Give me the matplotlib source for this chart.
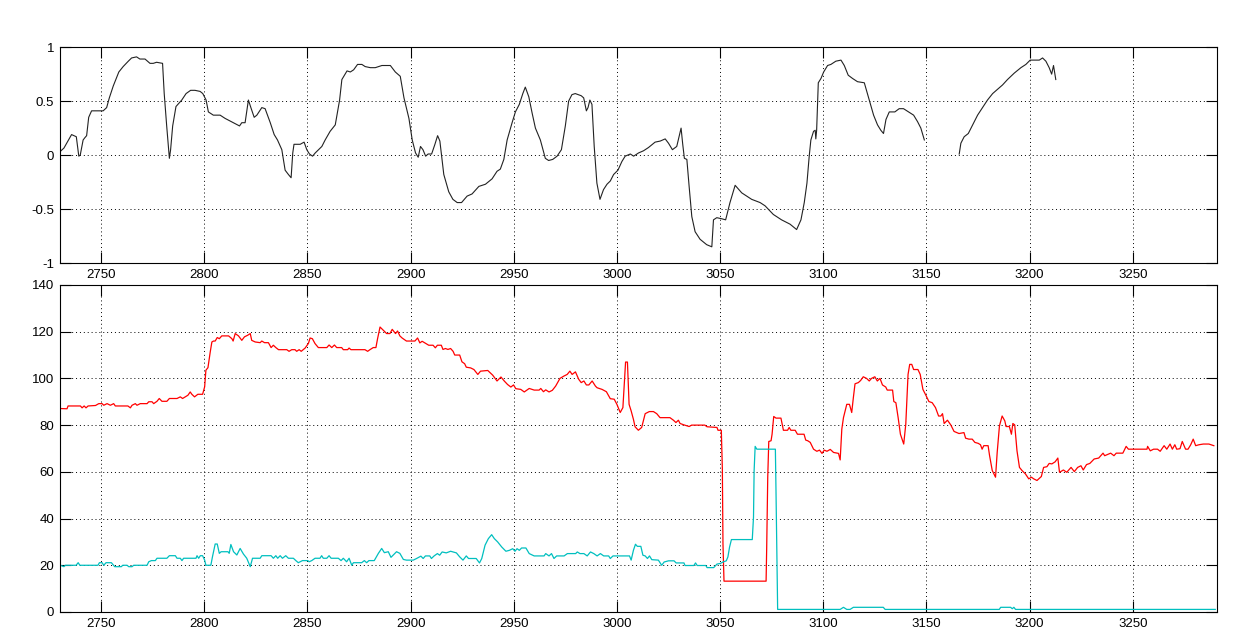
import numpy as np
import matplotlib
matplotlib.use('Agg')
import matplotlib.pyplot as plt

plt.rcParams['font.family'] = ['Liberation Sans', 'DejaVu Sans']
plt.rcParams['axes.unicode_minus'] = False

# Top panel: black signal (NaN marks the gap)
top_x = [2730, 2732, 2735.7, 2738, 2739.2, 2739.9, 2741.3, 2742.1, 2743, 2744, 2745.4, 2751,
         2752.7, 2754, 2755.9, 2758.6, 2760.7, 2763.2, 2764.8, 2767.2, 2768.8, 2771.3, 2773.7,
         2775.3, 2776.9, 2779.8, 2780.6, 2781.8, 2783.1, 2783.7, 2784.7, 2786.3, 2789.1, 2791.2,
         2793.4, 2795.5, 2798, 2799.3, 2800.9, 2802, 2804.4, 2807.7, 2810.1, 2814.1, 2817.1,
         2818.2, 2819.8, 2821.4, 2822.6, 2824.2, 2825.5, 2827.9, 2829.5, 2832, 2833.9, 2835.5,
         2837.6, 2839.2, 2840.8, 2842.1, 2842.9, 2843.5, 2846.5, 2848.4, 2849.7, 2851, 2852.5,
         2853.8, 2857, 2858.6, 2861, 2863.5, 2865.6, 2866.7, 2869.2, 2870.8, 2872.4, 2874.3,
         2876.4, 2878, 2880.5, 2882.9, 2886.1, 2890.2, 2892.6, 2895, 2896.8, 2899.2, 2900.8,
         2902.4, 2903.7, 2904.8, 2906, 2907.3, 2908.5, 2910.2, 2911.8, 2913.1, 2914.2, 2916.1,
         2918.5, 2920.5, 2922.6, 2924.7, 2927.4, 2929.8, 2933.1, 2936.3, 2939.5, 2941.9, 2943.5,
         2945.2, 2946.8, 2949.2, 2950.8, 2952.7, 2954.4, 2955.6, 2957.3, 2958.9, 2960.5, 2962.9,
         2965.3, 2966.9, 2968.9, 2971, 2973.1, 2975, 2976.6, 2978.2, 2979.8, 2982.7, 2983.9,
         2985.2, 2986, 2986.9, 2987.9, 2989, 2990.3, 2991.8, 2993.5, 2995.2, 2996.8, 2998.4,
         3000.5, 3002.4, 3004, 3006.5, 3008.1, 3010.5, 3012.9, 3015.3, 3018.5, 3021, 3023.4,
         3025, 3026.9, 3029, 3031.1, 3031.9, 3032.7, 3033.9, 3035, 3036.3, 3037.9, 3040.3,
         3043.5, 3046, 3046.8, 3048.4, 3050.8, 3052.7, 3054.8, 3057.3, 3060.5, 3065.3, 3069.4,
         3071.8, 3075.8, 3079.8, 3083.9, 3087.1, 3089.2, 3090.8, 3092.1, 3093.2, 3094, 3095.3,
         3096.1, 3096.4, 3096.8, 3097.6, 3098.9, 3100.2, 3102.1, 3103.7, 3106.1, 3108.6, 3110.2,
         3112.1, 3114.2, 3116.6, 3119.9, 3122.3, 3124.4, 3126.3, 3127.9, 3129.2, 3130.4, 3132,
         3134.7, 3136.8, 3138.9, 3141.4, 3143.8, 3145.7, 3147.3, 3149, 3157, 3165.9, 3166.7,
         3168.3, 3170.3, 3172.4, 3174.8, 3177.2, 3179.6, 3182.1, 3184.5, 3186.9, 3189.3, 3192.6,
         3195.8, 3198.2, 3200.3, 3204.7, 3206.3, 3207.9, 3209.5, 3210.7, 3211.6, 3212.7]
top_y = [0.03, 0.065, 0.19, 0.17, -0.01, 0.0, 0.14, 0.16, 0.18, 0.35, 0.41, 0.41,
         0.44, 0.53, 0.64, 0.77, 0.82, 0.87, 0.90, 0.91, 0.89, 0.89, 0.85,
         0.85, 0.86, 0.85, 0.57, 0.27, -0.03, 0.05, 0.27, 0.45, 0.51, 0.57,
         0.60, 0.60, 0.59, 0.57, 0.51, 0.40, 0.37, 0.37, 0.34, 0.30, 0.27,
         0.30, 0.30, 0.51, 0.44, 0.35, 0.37, 0.44, 0.43, 0.30, 0.19, 0.14,
         0.05, -0.14, -0.18, -0.21, 0.02, 0.10, 0.10, 0.12, 0.05, 0.01, -0.01,
         0.02, 0.08, 0.14, 0.22, 0.28, 0.51, 0.70, 0.78, 0.77, 0.79, 0.84,
         0.84, 0.82, 0.81, 0.81, 0.83, 0.83, 0.77, 0.73, 0.53, 0.34, 0.14,
         0.02, -0.02, 0.08, 0.05, -0.01, 0.01, 0.01, 0.10, 0.18, 0.13, -0.18,
         -0.34, -0.41, -0.44, -0.44, -0.38, -0.36, -0.29, -0.27, -0.22, -0.15, -0.13,
         -0.04, 0.14, 0.30, 0.40, 0.47, 0.57, 0.63, 0.54, 0.39, 0.25, 0.14,
         -0.03, -0.05, -0.04, -0.01, 0.05, 0.27, 0.50, 0.56, 0.57, 0.55, 0.53,
         0.41, 0.44, 0.51, 0.47, 0.08, -0.26, -0.41, -0.32, -0.27, -0.24, -0.18,
         -0.14, -0.06, -0.01, 0.01, -0.01, 0.02, 0.04, 0.07, 0.12, 0.13, 0.15,
         0.11, 0.05, 0.08, 0.25, 0.10, -0.03, -0.04, -0.29, -0.57, -0.71, -0.78,
         -0.83, -0.85, -0.60, -0.58, -0.59, -0.60, -0.44, -0.28, -0.35, -0.41, -0.44,
         -0.47, -0.55, -0.60, -0.64, -0.69, -0.60, -0.44, -0.26, -0.01, 0.14, 0.22,
         0.23, 0.15, 0.23, 0.67, 0.71, 0.77, 0.83, 0.84, 0.87, 0.88, 0.83,
         0.74, 0.71, 0.68, 0.67, 0.51, 0.37, 0.28, 0.23, 0.20, 0.33, 0.40,
         0.40, 0.43, 0.43, 0.40, 0.37, 0.31, 0.25, 0.14, np.nan, 0.01, 0.11,
         0.17, 0.20, 0.28, 0.37, 0.44, 0.51, 0.57, 0.61, 0.65, 0.70, 0.76,
         0.81, 0.84, 0.88, 0.88, 0.90, 0.87, 0.81, 0.75, 0.83, 0.70]

# Bottom panel: red series
red_x = [2730.3, 2733.5, 2734, 2740, 2740.8, 2741.8, 2742.7, 2743.7, 2747.3, 2748.9, 2750.5,
         2751.3, 2752.9, 2754.5, 2756.1, 2756.9, 2763, 2764.2, 2765, 2766.6, 2767.4, 2769,
         2772.3, 2773.1, 2774.7, 2775.5, 2777.1, 2778.2, 2779.5, 2781.9, 2783.1, 2786.8,
         2788.4, 2789.5, 2790.8, 2792.1, 2793.2, 2794, 2795.3, 2796.9, 2799.2, 2800.2, 2800.8,
         2801.8, 2802.9, 2803.7, 2804.5, 2805.3, 2806.3, 2807.3, 2808.5, 2811.8, 2813.4, 2814,
         2815, 2816.6, 2818.2, 2819.5, 2821.1, 2822.3, 2823, 2824.7, 2827.1, 2827.9, 2829.2,
         2831.1, 2832.4, 2833.5, 2834.7, 2836, 2840, 2841.1, 2842.4, 2844, 2844.8, 2846, 2847,
         2848.9, 2850.5, 2851.3, 2852.4, 2853.7, 2855.3, 2859.4, 2860.5, 2861.8, 2863.1,
         2864.2, 2866.6, 2867.4, 2869.5, 2870.2, 2871.1, 2877.9, 2879.2, 2880.3, 2881.9,
         2883.2, 2884, 2885.2, 2886.8, 2888.4, 2890, 2891.1, 2892.7, 2893.7, 2894.8, 2895.9,
         2898, 2902.1, 2903.4, 2904.5, 2905.6, 2906.9, 2908.8, 2910.9, 2912, 2913, 2914.9,
         2915.7, 2916.9, 2918.1, 2919.4, 2920.6, 2921.4, 2923.8, 2924.9, 2926.2, 2927, 2929.1,
         2930.7, 2932.6, 2933.9, 2937.4, 2939.8, 2941.9, 2943.8, 2945.4, 2947, 2948.6, 2949.9,
         2951, 2953.4, 2955.1, 2957.5, 2959.9, 2962.3, 2963.1, 2964.4, 2965.5, 2967.1, 2968.7,
         2970.3, 2972.4, 2974.3, 2975.9, 2977.2, 2978.3, 2979.9, 2981.5, 2982.7, 2984, 2985.2,
         2986.4, 2988, 2989.6, 2990.4, 2992.8, 2994.9, 2996.8, 2998.7, 3000, 3001.6, 3002.9,
         3003.5, 3004.2, 3005.1, 3005.9, 3006.9, 3008, 3008.8, 3010.4, 3012, 3013.7, 3015.7,
         3017.7, 3019.3, 3020.9, 3025.7, 3027.4, 3028.6, 3029.8, 3030.6, 3032.5, 3035, 3036.2,
         3042.6, 3043.7, 3048.5, 3049, 3050.6, 3051.1, 3051.4, 3051.9, 3072.3, 3072.6, 3073.1,
         3073.6, 3074.7, 3075.2, 3076, 3077.1, 3079.5, 3080.7, 3082.7, 3083.5, 3084.3, 3086.4,
         3087.5, 3090.7, 3091.5, 3092.5, 3093.7, 3095.3, 3096.9, 3098.2, 3099.4, 3100.5,
         3101.8, 3103.4, 3105, 3107.4, 3108.2, 3109, 3109.8, 3111.4, 3112.7, 3113.8, 3114.6,
         3115.4, 3117, 3118.1, 3119.4, 3121, 3122.3, 3123.4, 3125, 3126.2, 3127.5, 3128.7,
         3130.3, 3131, 3133.6, 3134.2, 3135.2, 3136.3, 3137.4, 3139, 3140, 3141.1, 3141.9,
         3142.9, 3143.8, 3145.9, 3147, 3148.3, 3149.9, 3151.2, 3152.8, 3154.4, 3155.9, 3157,
         3157.8, 3158.6, 3160.2, 3161.8, 3163.4, 3165.8, 3168.2, 3169, 3170.6, 3172.2, 3173.5,
         3175.1, 3176.2, 3177, 3177.8, 3179.9, 3180.6, 3181.9, 3183.5, 3184.3, 3185.4, 3186.7,
         3188, 3188.6, 3190.2, 3191.2, 3191.9, 3192.8, 3193.9, 3195.1, 3196.4, 3198, 3199.6,
         3200.9, 3202, 3203.6, 3205.7, 3206.8, 3208.4, 3209.5, 3210.8, 3212.4, 3213.7, 3214.5,
         3216.4, 3218, 3220.1, 3221.7, 3223.3, 3224.9, 3226, 3227.6, 3229.2, 3231.3, 3233.5,
         3235.6, 3236.4, 3239.3, 3240.9, 3242, 3245.2, 3246.8, 3247.9, 3256.9, 3257.2, 3258.5,
         3260.1, 3262, 3263.3, 3265.2, 3266.5, 3268.1, 3269.2, 3270.4, 3271.3, 3272.9, 3274,
         3275.6, 3276.8, 3278.1, 3279.3, 3280.5, 3282.1, 3284.2, 3286.9, 3289.3]
red_y = [87.1, 87, 88.2, 88.2, 87.4, 88.2, 87.4, 88.2, 88.4, 89.2, 89.2,
         88.5, 89.2, 88.5, 89.2, 88.2, 88.2, 87.4, 88.5, 89.2, 88.5, 89.2,
         89.2, 90, 90, 89.2, 90.2, 91.4, 90.2, 90.2, 91.4, 91.4,
         92.1, 91.4, 92.1, 92.8, 94.2, 93.2, 92.1, 93.2, 93.2, 96.4, 103.5,
         104.6, 111.3, 115.6, 116, 116, 117.5, 117, 118.2, 118.2, 117, 116,
         119.2, 118.2, 116.3, 117.8, 118.5, 119.2, 116.3, 115.6, 115.3, 116, 115.3,
         115.3, 113.2, 114.2, 113.2, 112.3, 112.3, 111.6, 112.3, 112.3, 111.6, 112.3, 111.6,
         113, 115, 117.3, 117, 114.9, 113.2, 113.2, 114.3, 113.2, 114.3,
         113.2, 113.2, 112.3, 112.3, 113, 112.3, 112.3, 111.6, 112.3, 113.2,
         113.2, 117, 122, 120.6, 119.2, 119.2, 121, 119.2, 120.3, 118.2, 117.3,
         116, 116, 117.3, 115.2, 115.9, 115.2, 114.2, 114.2, 113.1, 114.2, 114.2,
         112.4, 112.8, 112.4, 112.8, 111.6, 110, 110, 107.1, 106.3, 104.8, 104.5,
         103.8, 101.7, 103.1, 103.4, 101.4, 98.9, 100.6, 98.9, 97.4, 96.3, 97.2,
         95.6, 95.3, 94.2, 95.7, 95, 95, 95.7, 94.3, 95.1, 94.2, 94.9,
         96.7, 100, 101, 101.7, 103.1, 101.7, 102.8, 99.6, 98.2, 98.9, 97.2,
         97.2, 98.9, 96.7, 96, 95.3, 94.3, 91.3, 91.1, 88.9, 85.4, 87.5,
         96.7, 107, 107, 88.9, 86.1, 82.5, 79.3, 77.8, 79, 84.9, 85.8,
         85.8, 84.9, 83.2, 83.2, 82.1, 81.1, 82.1, 80.7, 80.1, 79.4, 80,
         80, 79.3, 79, 77.8, 77.8, 61.2, 29.3, 13.2, 13.2, 27.8, 57.7,
         73, 73.3, 76.1, 83.7, 83, 83, 77.8, 77.8, 79, 77.8, 77.8,
         76.1, 76.1, 73.6, 73.3, 72.6, 69.7, 68.8, 69.3, 67.9, 69.3,
         68.8, 69.6, 68.3, 67.9, 65.1, 78.3, 83.2, 88.9, 88.9, 85.4, 91.8,
         97.7, 98.2, 99.1, 100.7, 100, 98.9, 100, 100.7, 98.9, 100, 97.2,
         96.3, 95, 95, 90.1, 89.6, 83.2, 76.1, 71.9, 80.4, 101.7, 106,
         106, 103.8, 103.8, 101.7, 95.3, 92.5, 90.1, 89.6, 87.5, 83.9, 83.9,
         84.9, 80.7, 82.1, 80.1, 77.3, 76.4, 76.8, 74.4, 74, 74, 72.6,
         72.2, 71.6, 69.7, 71.2, 71.2, 67, 60.6, 57.7, 68.3, 79.7, 83.9,
         81.8, 79.4, 79.4, 76.1, 80.7, 80.1, 69, 61.9, 60.5, 59.1, 57,
         57.7, 57, 56.3, 58, 61.9, 62.2, 63.6, 63.4, 64.3, 65.9, 59.8,
         60.8, 59.8, 61.9, 60.1, 61.9, 62.6, 60.8, 63.1, 63.6, 65.5, 65.9,
         68, 66.9, 68, 66.9, 68, 68, 70.9, 69.7, 69.7, 70.9, 69,
         69.7, 69.7, 68.8, 71.2, 69.7, 71.9, 69.7, 71.6, 69.7, 69.9, 73,
         69.7, 69.7, 71.6, 74, 71.2, 71.6, 71.9, 71.9, 71.2]

# Bottom panel: cyan series
cyan_x = [2730.3, 2732, 2732.7, 2737.9, 2738.9, 2739.7, 2748.5, 2749.2, 2750.5, 2751.3, 2752.4,
          2755, 2756.6, 2759.8, 2760.5, 2762.6, 2763.4, 2765, 2765.8, 2772.3, 2773.1, 2774.4,
          2776.3, 2777.1, 2781.9, 2783.1, 2786, 2786.8, 2788.4, 2789.2, 2790, 2796, 2796.5,
          2797.3, 2798.1, 2799.2, 2800.2, 2800.8, 2803.2, 2804, 2805.3, 2806.3, 2807.3, 2808.2,
          2811.5, 2812.1, 2812.9, 2814.2, 2815.8, 2817.4, 2819, 2820.6, 2822.3, 2823.4, 2827.1,
          2827.9, 2832.4, 2833.5, 2834.7, 2835.6, 2836.8, 2837.9, 2839.5, 2840.8, 2843.2,
          2844.4, 2845.6, 2847.6, 2850.2, 2850.8, 2852.1, 2853.7, 2856.1, 2856.9, 2857.7,
          2859.4, 2860.5, 2861.5, 2865, 2866.3, 2867.4, 2869, 2870.2, 2871.5, 2872.3, 2876.3,
          2877.6, 2878.7, 2879.8, 2882.4, 2884.4, 2886, 2887.3, 2889.2, 2890.5, 2891.6, 2893.2,
          2894.8, 2896.5, 2898, 2901.3, 2902.9, 2905, 2906.1, 2907.2, 2909.3, 2910.1, 2911.4,
          2913, 2914.1, 2915.3, 2917.3, 2919.4, 2922.2, 2923.8, 2925.4, 2927, 2928.1, 2931.8,
          2933.4, 2934.5, 2936.1, 2937.7, 2939.3, 2940.6, 2942.2, 2944.2, 2946.2, 2947.9,
          2949.5, 2950.6, 2951.6, 2952.7, 2953.8, 2955.9, 2957.5, 2959.9, 2964.7, 2965.5,
          2967.1, 2968.3, 2969.5, 2970.8, 2974.4, 2976, 2980, 2980.8, 2982.1, 2984, 2985.6,
          2987.2, 2988.8, 2990.4, 2992, 2993.6, 2996, 2996.8, 2998.1, 3006.1, 3006.9, 3008,
          3009, 3009.9, 3011.6, 3012.6, 3013.7, 3014.8, 3015.8, 3016.9, 3020.1, 3021.7, 3022.9,
          3025, 3027.7, 3028.7, 3032.5, 3033, 3037.3, 3038.1, 3038.9, 3043.1, 3043.7, 3046.9,
          3048.5, 3050.2, 3051.4, 3053, 3053.8, 3054.6, 3055.5, 3065.6, 3066.2, 3066.5, 3067,
          3067.8, 3076.8, 3077.1, 3077.6, 3077.9, 3108.2, 3109.8, 3111.4, 3113, 3114.6, 3129.1,
          3130, 3185.3, 3186, 3190.8, 3191.6, 3192.4, 3193.2, 3290]
cyan_y = [20, 19.4, 20, 20, 21.1, 20, 20, 21.1, 21.1, 20, 21.1,
          21.1, 19.4, 19.4, 20, 20, 19.4, 19.4, 20, 20, 21.5, 22,
          22, 23, 23, 24.1, 24.1, 23, 23, 22, 23, 23, 24.1,
          23, 24.1, 24.1, 22.2, 20, 20, 23.7, 29.1, 29.1, 25.1, 25.8,
          25.8, 25.1, 28.9, 25.8, 24.4, 27.2, 24.8, 23, 19.4, 23, 23,
          24.1, 24.1, 23, 24.1, 23, 24.1, 23, 24.1, 23, 23,
          22, 21.1, 22, 22, 21.5, 22, 23, 23, 24.1, 23,
          23, 24.1, 23, 23, 22, 23, 21.5, 23, 20, 21.1, 21.1,
          22, 21.1, 22, 22, 25.1, 27.2, 25.4, 25.8, 23.4, 24.4, 25.8,
          25.1, 22.5, 22.2, 22.2, 22.9, 23.9, 22.9, 24, 24, 22.9, 24,
          25, 24.3, 25.7, 25.3, 26, 25.3, 23.6, 22.2, 24, 22.9, 22.9,
          21, 22.9, 28.6, 31.4, 33.1, 31.4, 30, 27.8, 26, 26.4,
          27.1, 26, 27.1, 26.4, 27.4, 27.4, 25, 24, 24, 25,
          24, 25, 22.9, 24, 24, 25, 25, 25.7, 25, 25, 24,
          25.7, 25, 24, 25, 24, 24, 22.9, 24, 24, 22.2, 26.4,
          29, 28.1, 28.1, 24.3, 24, 22.9, 24, 22.4, 22.2, 20, 21.4,
          21.9, 21.9, 21, 21, 19.9, 19.9, 21, 19.9, 19.9, 19, 19,
          20.5, 20.8, 21.4, 21.9, 23.6, 27.8, 31, 31, 40.6, 60.5, 70.9,
          69.7, 69.7, 52, 17.9, 1.1, 1.1, 2, 1.1, 1.1, 2, 2,
          1.1, 1.1, 2, 2, 1.4, 2, 1.1, 1.1]

top_yticks = [-1, -0.5, 0, 0.5, 1]
top_yticklabels = ['-1', '-0.5', '0', '0.5', '1']
bottom_yticks = [0, 20, 40, 60, 80, 100, 120, 140]
x_ticks = [2750, 2800, 2850, 2900, 2950, 3000, 3050, 3100, 3150, 3200, 3250]


def style_axes(ax):
    ax.set_xlim(2730, 3291)
    ax.set_xticks(x_ticks)
    ax.tick_params(direction='in', top=True, right=True, length=8, width=0.8,
                   labelsize=9.5, pad=4)
    ax.grid(True, color='black', linestyle=(0, (1, 3)), linewidth=0.7)
    ax.set_axisbelow(True)
    for sp in ax.spines.values():
        sp.set_linewidth(0.8)


fig = plt.figure(figsize=(12.46, 6.33), dpi=100)

ax1 = fig.add_axes([0.048, 0.5845, 0.929, 0.341])
ax1.plot(top_x, top_y, color='#222222', linewidth=0.8)
ax1.set_ylim(-1, 1)
ax1.set_yticks(top_yticks)
ax1.set_yticklabels(top_yticklabels)
style_axes(ax1)

ax2 = fig.add_axes([0.048, 0.0332, 0.929, 0.5166])
ax2.plot(red_x, red_y, color='#ff0000', linewidth=0.9)
ax2.plot(cyan_x, cyan_y, color='#00bfbf', linewidth=0.9)
ax2.set_ylim(0, 140)
ax2.set_yticks(bottom_yticks)
style_axes(ax2)

fig.savefig('out.png', dpi=100)
